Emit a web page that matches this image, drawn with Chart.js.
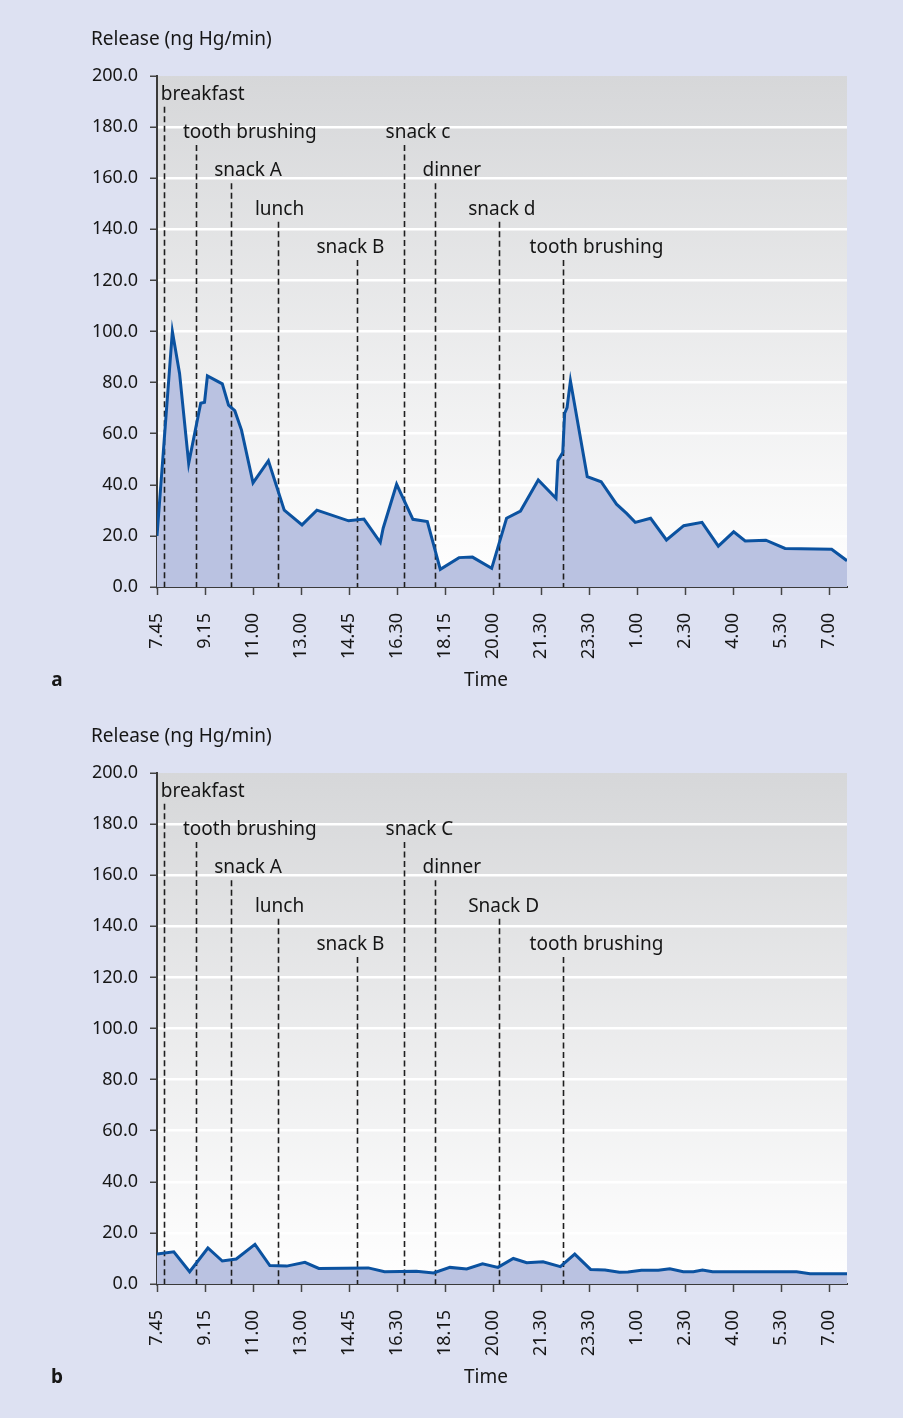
<!DOCTYPE html>
<html>
<head>
<meta charset="utf-8">
<script src="https://cdn.jsdelivr.net/npm/chart.js@4.4.1/dist/chart.umd.min.js"></script>
<style>
    html, body { margin: 0; padding: 0; background: #dde1f2; }
    body { width: 903px; height: 1418px; position: relative; overflow: hidden; }
    .panel { position: absolute; left: 0; width: 903px; height: 697px; }
    #panelA { top: 0; }
    #panelB { top: 697px; }
</style>
</head>
<body>
<div class="panel" id="panelA"><canvas id="chartA" width="903" height="697"></canvas></div>
<div class="panel" id="panelB"><canvas id="chartB" width="903" height="697"></canvas></div>
<script>
// Tick labels of the time axis (one per major tick)
const timeLabels = ['7.45', '9.15', '11.00', '13.00', '14.45', '16.30', '18.15', '20.00',
    '21.30', '23.30', '1.00', '2.30', '4.00', '5.30', '7.00'];

// Panel a: position on the time axis (in tick units) and release (ng Hg/min)
const posA = [0, 0.32, 0.47, 0.66, 0.91, 0.99, 1.05, 1.36, 1.49, 1.62, 1.76, 2.0, 2.32, 2.65,
    3.02, 3.33, 3.99, 4.31, 4.65, 4.71, 4.99, 5.33, 5.63, 5.90, 6.29, 6.57, 6.97, 7.28, 7.57,
    7.94, 8.31, 8.35, 8.45, 8.49, 8.54, 8.61, 8.96, 9.25, 9.57, 9.78, 9.96, 10.28, 10.61,
    10.97, 11.35, 11.69, 12.01, 12.25, 12.68, 13.08, 14.05, 14.37];
const releaseA = [20, 100, 83.6, 48.4, 71.9, 72.3, 82.6, 79.5, 71.2, 69.0, 61.4, 40.8, 49.4, 30.1,
    24.3, 30.1, 25.9, 26.6, 17.5, 23.0, 40.2, 26.5, 25.6, 6.9, 11.5, 11.7, 7.3, 26.9, 29.7,
    41.9, 34.7, 49.4, 52.6, 68.0, 70.2, 80.7, 43.2, 41.2, 32.4, 28.8, 25.3, 26.9, 18.4,
    24.0, 25.3, 16.0, 21.6, 18.0, 18.3, 15.1, 14.8, 10.3];

// Panel b
const posB = [0, 0.35, 0.68, 1.06, 1.36, 1.65, 2.04, 2.35, 2.70, 3.08, 3.37, 4.40, 4.74, 5.40,
    5.76, 6.10, 6.45, 6.78, 7.10, 7.42, 7.70, 8.04, 8.40, 8.70, 9.03, 9.33, 9.63, 9.81, 10.09,
    10.44, 10.68, 10.96, 11.17, 11.36, 11.57, 13.32, 13.60, 14.37];
const releaseB = [11.7, 12.6, 4.8, 14.1, 9.0, 9.8, 15.5, 7.2, 7.0, 8.5, 6.1, 6.3, 4.8, 5.0,
    4.3, 6.5, 5.9, 7.9, 6.5, 10.0, 8.3, 8.7, 6.8, 11.7, 5.7, 5.5, 4.6, 4.7, 5.4,
    5.4, 6.0, 4.8, 4.8, 5.5, 4.8, 4.8, 4.0, 4.0];

// Events (meals, tooth brushing) marked by dashed lines
const eventPos = [0.146, 0.82, 1.54, 2.51, 4.17, 5.15, 5.78, 7.12, 8.45];
const eventNamesA = ['breakfast', 'tooth brushing', 'snack A', 'lunch', 'snack B', 'snack c', 'dinner', 'snack d', 'tooth brushing'];
const eventNamesB = ['breakfast', 'tooth brushing', 'snack A', 'lunch', 'snack B', 'snack C', 'dinner', 'Snack D', 'tooth brushing'];
const eventRow = [0, 1, 2, 3, 4, 1, 2, 3, 4];

// Where the event labels start (left edge, in tick units)
const eventLabelLeft = [0.08, 0.54, 1.19, 2.04, 3.32, 4.76, 5.53, 6.48, 7.76];

const FONT = "'Noto Sans', sans-serif";
const TEXT = '#161616';

// Grey to white background of the plot area
const plotBackground = {
    id: 'plotBackground',
    beforeDraw(chart) {
        const { ctx, chartArea: a } = chart;
        const g = ctx.createLinearGradient(0, a.top, 0, a.bottom);
        g.addColorStop(0, '#d6d7d9');
        g.addColorStop(1, '#ffffff');
        ctx.save();
        ctx.fillStyle = g;
        ctx.fillRect(a.left, a.top, a.right - a.left, a.bottom - a.top);
        ctx.restore();
    }
};

// Dashed event lines (over the fill, under the line) and all the extra text
const eventMarks = {
    id: 'eventMarks',
    beforeDatasetDraw(chart) {
        const { ctx } = chart;
        const xs = chart.scales.x, ys = chart.scales.y;
        ctx.save();
        ctx.strokeStyle = '#1e1e1e';
        ctx.lineWidth = 1.6;
        ctx.setLineDash([6, 3.5]);
        eventPos.forEach((p, i) => {
            const x = Math.round(xs.getPixelForValue(p)) + 0.5;
            ctx.beginPath();
            ctx.moveTo(x, ys.getPixelForValue(188 - 15 * eventRow[i]));
            ctx.lineTo(x, ys.getPixelForValue(0));
            ctx.stroke();
        });
        ctx.restore();
    },
    afterDraw(chart, args, opts) {
        const { ctx } = chart;
        const xs = chart.scales.x, ys = chart.scales.y;
        ctx.save();
        ctx.fillStyle = TEXT;
        ctx.font = '19px ' + FONT;
        ctx.textBaseline = 'alphabetic';
        ctx.textAlign = 'left';
        opts.names.forEach((name, i) => {
            const y = ys.getPixelForValue(188 - 15 * eventRow[i]) - 7;
            ctx.fillText(name, xs.getPixelForValue(eventLabelLeft[i]), y);
        });

        // axis titles and panel letter
        ctx.textBaseline = 'middle';
        ctx.fillText('Release (ng Hg/min)', 91, 40);
        ctx.textAlign = 'center';
        ctx.fillText('Time', 486, 681);
        ctx.font = 'bold 19px ' + FONT;
        ctx.fillText(opts.letter, 57, 681);
        ctx.restore();
    }
};

function makeChart(canvasId, pos, values, names, letter) {
    return new Chart(document.getElementById(canvasId), {
        type: 'line',
        data: {
            datasets: [{
                data: pos.map((x, i) => ({ x: x, y: values[i] })),
                borderColor: '#0b52a0',
                backgroundColor: '#bac2e1',
                borderWidth: 3,
                fill: 'origin',
                tension: 0,
                pointRadius: 0
            }]
        },
        options: {
            responsive: false,
            animation: false,
            layout: { padding: { top: 76, right: 56, bottom: 0, left: 0 } },
            plugins: {
                legend: { display: false },
                tooltip: { enabled: false },
                eventMarks: { names: names, letter: letter }
            },
            scales: {
                x: {
                    type: 'linear',
                    min: 0,
                    max: 14.37,
                    // one tick per time label, nothing at the right edge
                    afterBuildTicks: s => { s.ticks = timeLabels.map((_, i) => ({ value: i })); },
                    afterFit: s => { s.height = 110; },
                    ticks: {
                        autoSkip: false,
                        minRotation: 90,
                        maxRotation: 90,
                        padding: 18,
                        color: TEXT,
                        font: { family: FONT, size: 18 },
                        callback: v => timeLabels[v]
                    },
                    grid: { drawOnChartArea: false, tickLength: 8, tickColor: '#444', tickWidth: 1.5 },
                    border: { color: '#3a3a3a', width: 2 }
                },
                y: {
                    min: 0,
                    max: 200,
                    afterFit: s => { s.width = 157; },
                    ticks: {
                        stepSize: 20,
                        padding: 12,
                        color: TEXT,
                        font: { family: FONT, size: 18 },
                        callback: v => v.toFixed(1)
                    },
                    grid: {
                        color: c => (c.tick && c.tick.value > 0 && c.tick.value < 200) ? '#ffffff' : 'rgba(0,0,0,0)',
                        lineWidth: 2.5,
                        tickLength: 7,
                        tickColor: '#444',
                        tickWidth: 1.5
                    },
                    border: { color: '#3a3a3a', width: 2 }
                }
            }
        },
        plugins: [plotBackground, eventMarks]
    });
}

document.addEventListener('DOMContentLoaded', () => {
    makeChart('chartA', posA, releaseA, eventNamesA, 'a');
    makeChart('chartB', posB, releaseB, eventNamesB, 'b');
});
</script>
</body>
</html>
